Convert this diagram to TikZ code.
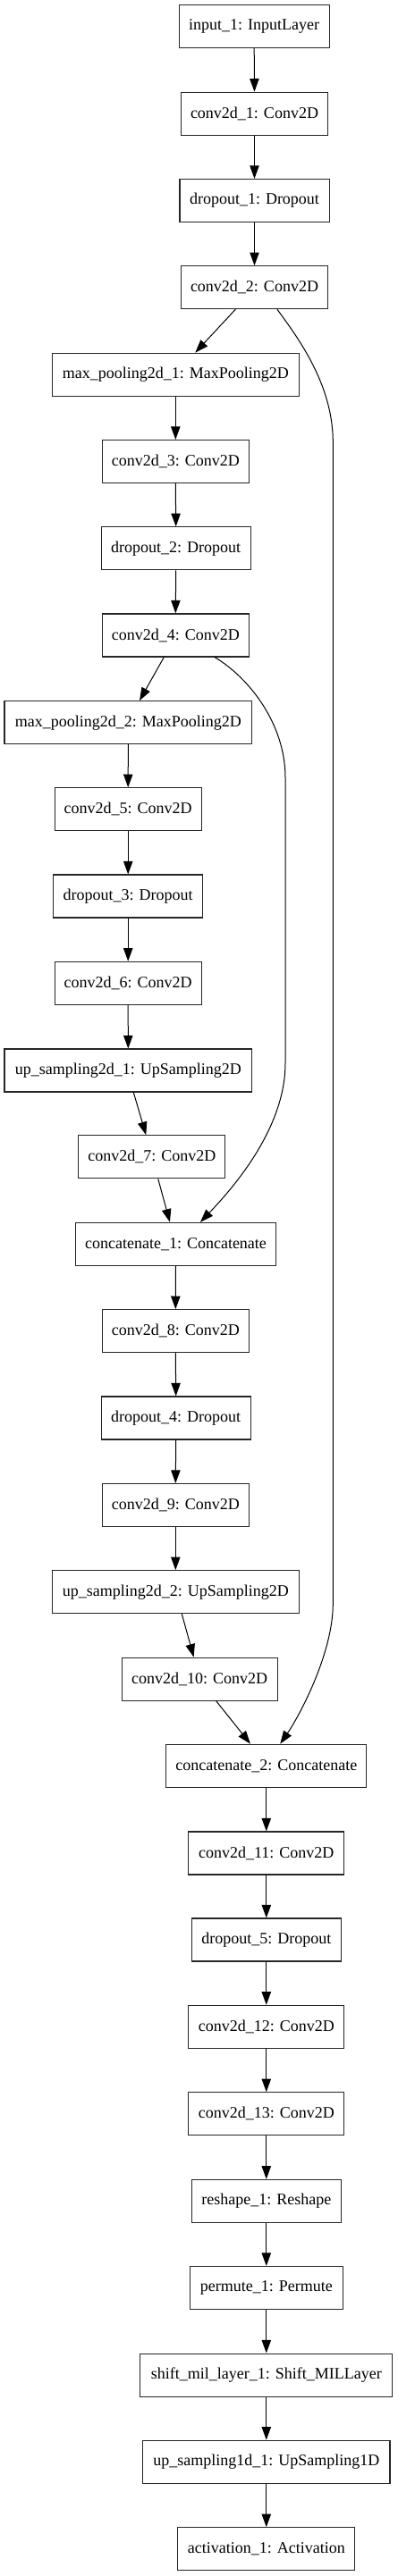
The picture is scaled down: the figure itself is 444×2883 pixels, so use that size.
\documentclass[tikz,border=0pt]{standalone}
\usepackage{fontspec}
\setmainfont{Liberation Serif}
\usetikzlibrary{arrows.meta}
\begin{document}
\begin{tikzpicture}[x=0.75pt,y=-0.75pt,
  lay/.style={draw=black!85,line width=0.8pt,minimum height=36pt,inner sep=0pt,
    font=\fontsize{13.5pt}{16pt}\selectfont,fill=white},
  edge/.style={line width=0.75pt,-{Triangle[length=11pt,width=7.8pt]}}]
\useasboundingbox (0,0) rectangle (444,2883);
\fill[white] (0,0) rectangle (444,2883);
\node[lay,minimum width=125.8pt] (n1) at (284.2,29.7) {input\_1: InputLayer};
\node[lay,minimum width=123.3pt] (n2) at (284.5,127.2) {conv2d\_1: Conv2D};
\node[lay,minimum width=125.3pt] (n3) at (284.5,224.5) {dropout\_1: Dropout};
\node[lay,minimum width=123.3pt] (n4) at (284.5,321.7) {conv2d\_2: Conv2D};
\node[lay,minimum width=207pt] (n5) at (196.3,419.2) {max\_pooling2d\_1: MaxPooling2D};
\node[lay,minimum width=123pt] (n6) at (196.3,516.5) {conv2d\_3: Conv2D};
\node[lay,minimum width=125pt] (n7) at (196.7,613.8) {dropout\_2: Dropout};
\node[lay,minimum width=123pt] (n8) at (196.3,711) {conv2d\_4: Conv2D};
\node[lay,minimum width=207.5pt] (n9) at (143.3,808.7) {max\_pooling2d\_2: MaxPooling2D};
\node[lay,minimum width=123.2pt] (n10) at (143.2,905.7) {conv2d\_5: Conv2D};
\node[lay,minimum width=125.3pt] (n11) at (143.2,1003) {dropout\_3: Dropout};
\node[lay,minimum width=123.2pt] (n12) at (143.2,1100.3) {conv2d\_6: Conv2D};
\node[lay,minimum width=207.5pt] (n13) at (143.3,1198) {up\_sampling2d\_1: UpSampling2D};
\node[lay,minimum width=123.2pt] (n14) at (169.8,1294.8) {conv2d\_7: Conv2D};
\node[lay,minimum width=168.3pt] (n15) at (196.5,1392.3) {concatenate\_1: Concatenate};
\node[lay,minimum width=123pt] (n16) at (196.3,1489.7) {conv2d\_8: Conv2D};
\node[lay,minimum width=125pt] (n17) at (196.7,1587) {dropout\_4: Dropout};
\node[lay,minimum width=123pt] (n18) at (196.3,1684.5) {conv2d\_9: Conv2D};
\node[lay,minimum width=207pt] (n19) at (196.3,1781.7) {up\_sampling2d\_2: UpSampling2D};
\node[lay,minimum width=130.3pt] (n20) at (223.2,1879.2) {conv2d\_10: Conv2D};
\node[lay,minimum width=168.2pt] (n21) at (297.8,1976.2) {concatenate\_2: Concatenate};
\node[lay,minimum width=130.3pt] (n22) at (297.8,2074) {conv2d\_11: Conv2D};
\node[lay,minimum width=125.3pt] (n23) at (297.8,2171) {dropout\_5: Dropout};
\node[lay,minimum width=130.3pt] (n24) at (297.8,2268.3) {conv2d\_12: Conv2D};
\node[lay,minimum width=130.3pt] (n25) at (297.8,2365.7) {conv2d\_13: Conv2D};
\node[lay,minimum width=125.3pt] (n26) at (297.8,2463.3) {reshape\_1: Reshape};
\node[lay,minimum width=128.3pt] (n27) at (297.8,2560.5) {permute\_1: Permute};
\node[lay,minimum width=211.3pt] (n28) at (297.8,2658) {shift\_mil\_layer\_1: Shift\_MILLayer};
\node[lay,minimum width=207.3pt] (n29) at (297.8,2755.2) {up\_sampling1d\_1: UpSampling1D};
\node[lay,minimum width=148.3pt] (n30) at (297.8,2852.7) {activation\_1: Activation};
% straight edges
\draw[edge] (n1.south) -- (n2.north);
\draw[edge] (n2.south) -- (n3.north);
\draw[edge] (n3.south) -- (n4.north);
\draw[edge] ([xshift=-15.9pt]n4.south) -- ([xshift=16.5pt]n5.north);
\draw[edge] (n5.south) -- (n6.north);
\draw[edge] (n6.south) -- (n7.north);
\draw[edge] (n7.south) -- (n8.north);
\draw[edge] ([xshift=-9.75pt]n8.south) -- ([xshift=9.5pt]n9.north);
\draw[edge] (n9.south) -- (n10.north);
\draw[edge] (n10.south) -- (n11.north);
\draw[edge] (n11.south) -- (n12.north);
\draw[edge] (n12.south) -- (n13.north);
\draw[edge] ([xshift=4.5pt]n13.south) -- ([xshift=-4.9pt]n14.north);
\draw[edge] ([xshift=5.2pt]n14.south) -- ([xshift=-4.9pt]n15.north);
\draw[edge] (n15.south) -- (n16.north);
\draw[edge] (n16.south) -- (n17.north);
\draw[edge] (n17.south) -- (n18.north);
\draw[edge] (n18.south) -- (n19.north);
\draw[edge] ([xshift=5.25pt]n19.south) -- ([xshift=-4.9pt]n20.north);
\draw[edge] ([xshift=13.9pt]n20.south) -- ([xshift=-13.4pt]n21.north);
\draw[edge] (n21.south) -- (n22.north);
\draw[edge] (n22.south) -- (n23.north);
\draw[edge] (n23.south) -- (n24.north);
\draw[edge] (n24.south) -- (n25.north);
\draw[edge] (n25.south) -- (n26.north);
\draw[edge] (n26.south) -- (n27.north);
\draw[edge] (n27.south) -- (n28.north);
\draw[edge] (n28.south) -- (n29.north);
\draw[edge] (n29.south) -- (n30.north);
% skip connections
\draw[edge] ([xshift=19.1pt]n4.south) .. controls (333,378) and (372.3,430) .. (372.3,495)
  -- (372.3,1795) .. controls (372.3,1850) and (335,1920) .. ([xshift=11.6pt]n21.north);
\draw[edge] ([xshift=32.8pt]n8.south) .. controls (278,758) and (319,810) .. (319,870)
  -- (319,1190) .. controls (319,1260) and (265,1325) .. ([xshift=20.6pt]n15.north);
\end{tikzpicture}
\end{document}
